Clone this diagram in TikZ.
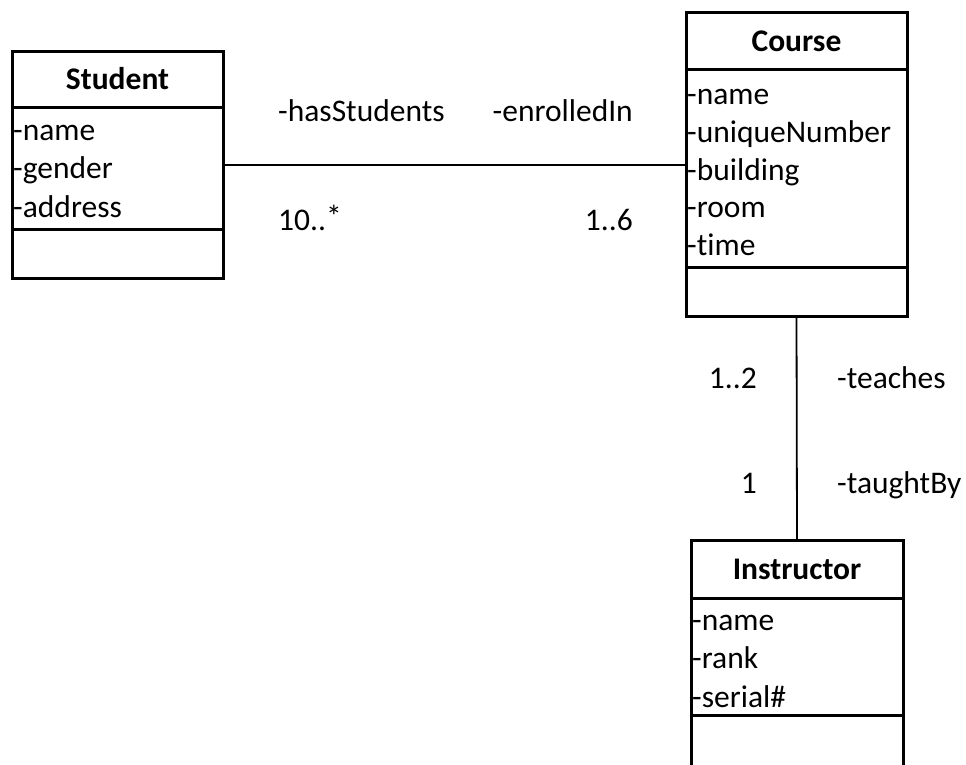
\documentclass[tikz,border=0pt]{standalone}
\usepackage{fontspec}
\setmainfont{Carlito}[Ligatures=NoCommon]
\begin{document}
\begin{tikzpicture}[x=1pt,y=-1pt,
  box/.style={draw, line width=3pt, rectangle, inner sep=0pt, outer sep=0pt},
  sep/.style={line width=3pt},
  conn/.style={line width=1.8pt},
  lbl/.style={font=\fontsize{31.5}{38}\selectfont, inner sep=0pt, text height=0.7em, text depth=0.2em, yshift=-7.5pt},
  ttl/.style={inner sep=0pt, text height=0.7em, text depth=0.2em, yshift=-7.5pt, font=\fontsize{31.5}{38}\selectfont\bfseries}]
\useasboundingbox (0,0) rectangle (966,765);
% class boxes
\node[box, minimum width=211pt, minimum height=226pt] (student) at (117.5,165) {};
\node[box, minimum width=221pt, minimum height=303pt] (course) at (796.5,164.5) {};
\node[box, minimum width=212pt, minimum height=228pt] (instructor) at (797,654) {};
% compartments
\draw[sep] (student.west |- 0,108) -- (student.east |- 0,108);
\draw[sep] (student.west |- 0,229) -- (student.east |- 0,229);
\draw[sep] (course.west |- 0,70) -- (course.east |- 0,70);
\draw[sep] (course.west |- 0,267) -- (course.east |- 0,267);
\draw[sep] (instructor.west |- 0,598) -- (instructor.east |- 0,598);
\draw[sep] (instructor.west |- 0,715) -- (instructor.east |- 0,715);
% titles
\node[ttl] (studentT) at (117.5,80) {Student};
\node[ttl] (courseT) at (796.5,41.5) {Course};
\node[ttl] (instructorT) at (797,569) {Instructor};
% attributes
\node[lbl, anchor=west] (s1) at (13,130) {-name};
\node[lbl, anchor=west] (s2) at (13,168.5) {-gender};
\node[lbl, anchor=west] (s3) at (13,207) {-address};
\node[lbl, anchor=west] (c1) at (687,95) {-name};
\node[lbl, anchor=west] (c2) at (687,132.5) {-uniqueNumber};
\node[lbl, anchor=west] (c3) at (687,170) {-building};
\node[lbl, anchor=west] (c4) at (687,207.5) {-room};
\node[lbl, anchor=west] (c5) at (687,245) {-time};
\node[lbl, anchor=west] (i1) at (692,620) {-name};
\node[lbl, anchor=west] (i2) at (692,658.5) {-rank};
\node[lbl, anchor=west] (i3) at (692,697) {-serial\#};
% connectors
\draw[conn] (student.east) -- (student.east -| course.west);
\draw[conn] (course.south) -- (instructor.north);
% association labels
\node[lbl, anchor=west] (l1) at (278,112) {-hasStudents};
\node[lbl, anchor=east] (l2) at (633,112) {-enrolledIn};
\node[lbl, anchor=west] (l3) at (278,220) {10..\raisebox{3pt}{*}};
\node[lbl, anchor=east] (l4) at (633,220) {1..6};
\node[lbl, anchor=east] (l5) at (757,378) {1..2};
\node[lbl, anchor=west] (l6) at (837,378) {-teaches};
\node[lbl, anchor=east] (l7) at (757,483) {1};
\node[lbl, anchor=west] (l8) at (837,483) {-taughtBy};
\end{tikzpicture}
\end{document}
